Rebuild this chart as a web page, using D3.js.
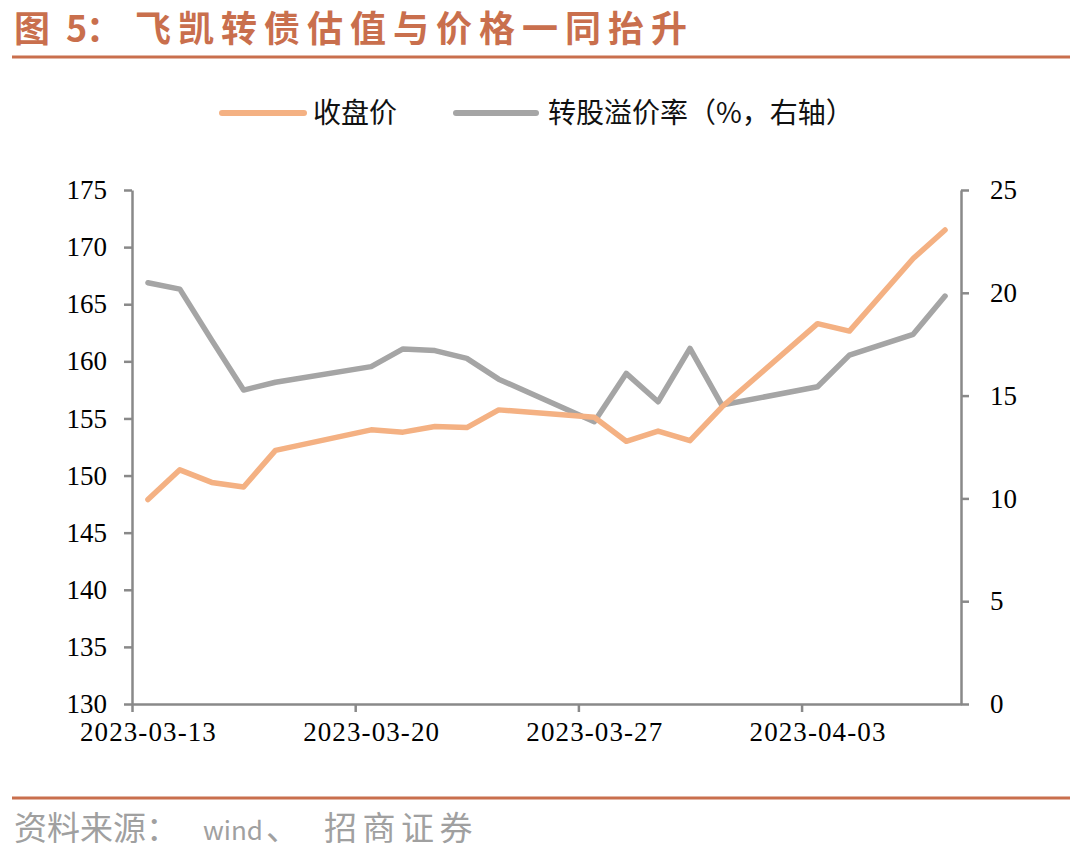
<!DOCTYPE html>
<html>
<head>
<meta charset="utf-8">
<script src="https://cdn.jsdelivr.net/npm/d3@7"></script>
<style>
  html, body { margin: 0; padding: 0; background: #fff; }
  svg { display: block; }
</style>
</head>
<body>
<svg id="chart" width="1080" height="854"></svg>
<script>
// ---- data ----
const dates = ["2023-03-13","2023-03-14","2023-03-15","2023-03-16","2023-03-17",
               "2023-03-20","2023-03-21","2023-03-22","2023-03-23","2023-03-24",
               "2023-03-27","2023-03-28","2023-03-29","2023-03-30","2023-03-31",
               "2023-04-03","2023-04-04","2023-04-06","2023-04-07"];
const closePrice = [147.9,150.5,149.4,149.0,152.2,
                    154.0,153.8,154.3,154.2,155.75,
                    155.1,153.0,153.9,153.05,156.0,
                    163.3,162.65,169.0,171.5];
const premiumRate = [20.49,20.18,17.7,15.27,15.65,
                     16.41,17.27,17.19,16.81,15.8,
                     13.73,16.08,14.70,17.3,14.54,
                     15.43,16.97,17.98,19.84];
const xTickLabels = ["2023-03-13","2023-03-20","2023-03-27","2023-04-03"];
const leftTicks = [130,135,140,145,150,155,160,165,170,175];
const rightTicks = [0,5,10,15,20,25];
const seriesNames = ["收盘价","转股溢价率（%，右轴）"];

// ---- layout ----
const svg = d3.select("#chart");
const L = 132, R = 961, T = 190, B = 704;
const parse = d3.timeParse("%Y-%m-%d");
const axisColor = "#898989";
const accent = "#C96F4D";
const cOrange = "#F4B183", cGray = "#A5A5A5";
const cjk = "'Noto Sans CJK SC', sans-serif";

const x = d3.scaleTime()
  .domain([parse("2023-03-13"), parse("2023-04-08")])
  .range([L, R]);
const yL = d3.scaleLinear().domain([130,175]).range([B, T]);
const yR = d3.scaleLinear().domain([0,25]).range([B, T]);
const mid = d => d3.timeHour.offset(parse(d), 12);
const halfDay = x(mid("2023-03-13")) - x(parse("2023-03-13"));

// ---- title ----
const title = svg.append("text")
  .attr("y", 42)
  .attr("fill", accent)
  .attr("font-family", cjk)
  .attr("font-weight", "bold")
  .attr("font-size", 36);
title.append("tspan").attr("x", 14).text("图");
title.append("tspan").attr("x", 66).text("5");
title.append("tspan").attr("x", 86).text("：");
title.append("tspan").attr("x", 135).attr("letter-spacing", 7).text("飞凯转债估值与价格一同抬升");

svg.append("line").attr("x1", 12).attr("x2", 1070).attr("y1", 57).attr("y2", 57)
  .attr("stroke", accent).attr("stroke-width", 3);
svg.append("line").attr("x1", 12).attr("x2", 1070).attr("y1", 798).attr("y2", 798)
  .attr("stroke", accent).attr("stroke-width", 3);

// ---- source ----
const src = svg.append("text")
  .attr("y", 840)
  .attr("fill", "#A0A0A0")
  .attr("font-family", cjk)
  .attr("font-size", 33);
src.append("tspan").attr("x", 14).text("资料来源：");
src.append("tspan").attr("x", 203).attr("font-size", 26).text("wind");
src.append("tspan").attr("x", 266).text("、");
src.append("tspan").attr("x", 324).attr("letter-spacing", 5.5).text("招商证券");

// ---- legend ----
const legend = [
  {name: seriesNames[0], color: cOrange, x1: 222, x2: 304, tx: 313},
  {name: seriesNames[1], color: cGray, x1: 456, x2: 536, tx: 548}
];
legend.forEach(l => {
  svg.append("line").attr("x1", l.x1).attr("x2", l.x2).attr("y1", 113).attr("y2", 113)
    .attr("stroke", l.color).attr("stroke-width", 6).attr("stroke-linecap", "round");
  svg.append("text").attr("x", l.tx).attr("y", 113).attr("dy", "0.36em")
    .attr("font-family", cjk)
    .attr("font-size", 28).attr("fill", "#111")
    .text(l.name);
});

// ---- axes ----
const styleAxis = g => {
  g.selectAll(".domain").attr("stroke", axisColor).attr("stroke-width", 2.5);
  g.selectAll(".tick line").attr("stroke", axisColor).attr("stroke-width", 2.5);
  g.selectAll(".tick text").attr("fill", "#000")
    .attr("font-family", "'Liberation Serif', 'Times New Roman', serif")
    .attr("font-size", 27);
};

svg.append("g").attr("transform", `translate(${L},0)`)
  .call(d3.axisLeft(yL).tickValues(leftTicks).tickSize(8).tickSizeOuter(0).tickPadding(17))
  .call(styleAxis);
svg.append("g").attr("transform", `translate(${R},0)`)
  .call(d3.axisRight(yR).tickValues(rightTicks).tickSize(8).tickSizeOuter(0).tickPadding(21))
  .call(styleAxis);
svg.append("g").attr("transform", `translate(0,${B})`)
  .call(d3.axisBottom(x).tickValues(xTickLabels.map(parse)).tickFormat(d3.timeFormat("%Y-%m-%d"))
        .tickSize(8).tickSizeOuter(0).tickPadding(10))
  .call(styleAxis)
  .call(g => g.selectAll(".tick text")
    .attr("letter-spacing", 1.1)
    .attr("dx", halfDay));

// ---- lines ----
const priceData = dates.map((d, i) => ({d: mid(d), v: closePrice[i]}));
const premData = dates.map((d, i) => ({d: mid(d), v: premiumRate[i]}));

svg.append("path").datum(premData)
  .attr("fill", "none").attr("stroke", cGray).attr("stroke-width", 5.5)
  .attr("stroke-linejoin", "round").attr("stroke-linecap", "round")
  .attr("d", d3.line().x(p => x(p.d)).y(p => yR(p.v)));
svg.append("path").datum(priceData)
  .attr("fill", "none").attr("stroke", cOrange).attr("stroke-width", 5.5)
  .attr("stroke-linejoin", "round").attr("stroke-linecap", "round")
  .attr("d", d3.line().x(p => x(p.d)).y(p => yL(p.v)));
</script>
</body>
</html>
